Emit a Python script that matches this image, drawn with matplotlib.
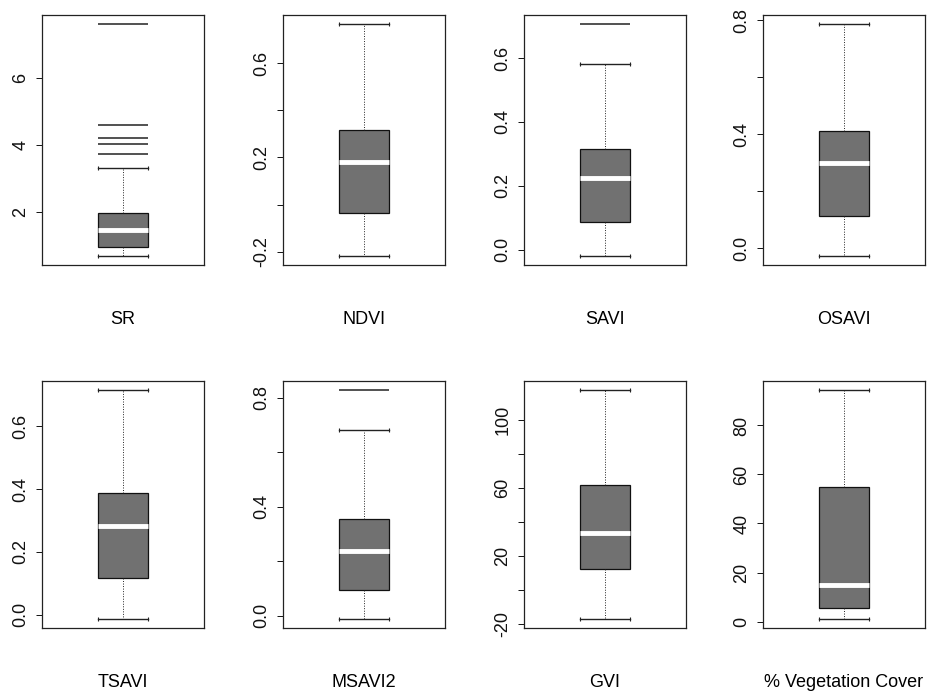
import matplotlib
matplotlib.use('Agg')
import matplotlib.pyplot as plt

# box statistics
names = ['SR', 'NDVI', 'SAVI', 'OSAVI', 'TSAVI', 'MSAVI2', 'GVI', '% Vegetation Cover']
whislo = [0.68, -0.217, -0.019, -0.026, -0.013, -0.012, -17.0, 1.1]
q1 = [0.93, -0.036, 0.087, 0.115, 0.118, 0.095, 12.2, 5.5]
med = [1.46, 0.18, 0.223, 0.30, 0.284, 0.239, 33.7, 15.0]
q3 = [1.96, 0.317, 0.316, 0.41, 0.387, 0.356, 62.0, 54.9]
whishi = [3.31, 0.764, 0.58, 0.786, 0.715, 0.682, 117.6, 94.4]
outliers = [[3.74, 4.04, 4.19, 4.58, 7.61], [], [0.706], [], [], [0.828], [], []]

yticks = [[2, 4, 6],
          [-0.2, 0.0, 0.2, 0.4, 0.6],
          [0.0, 0.2, 0.4, 0.6],
          [0.0, 0.2, 0.4, 0.6, 0.8],
          [0.0, 0.2, 0.4, 0.6],
          [0.0, 0.2, 0.4, 0.6, 0.8],
          [-20, 0, 20, 40, 60, 80, 100],
          [0, 20, 40, 60, 80]]
ytick_labels = [['2', '4', '6'],
                ['-0.2', '', '0.2', '', '0.6'],
                ['0.0', '0.2', '0.4', '0.6'],
                ['0.0', '', '0.4', '', '0.8'],
                ['0.0', '0.2', '0.4', '0.6'],
                ['0.0', '', '0.4', '', '0.8'],
                ['-20', '', '20', '', '60', '', '100'],
                ['0', '20', '40', '60', '80']]

plt.rcParams['font.family'] = ['Liberation Sans', 'DejaVu Sans']

W, H = 944, 692
fig = plt.figure(figsize=(W / 100, H / 100), dpi=100)

col_left = [42, 283, 524, 763]
row_top = [15, 381]
row_bot = [265, 628]
ax_w = 162
box_w = 0.31

for i, name in enumerate(names):
    r, c = divmod(i, 4)
    ax = fig.add_axes([col_left[c] / W, 1 - row_bot[r] / H,
                       ax_w / W, (row_bot[r] - row_top[r]) / H])
    stats = [dict(med=med[i], q1=q1[i], q3=q3[i], whislo=whislo[i],
                  whishi=whishi[i], fliers=outliers[i])]
    ax.bxp(stats, positions=[1], widths=box_w, capwidths=box_w,
           patch_artist=True,
           boxprops=dict(facecolor='#717171', edgecolor='#111111', linewidth=0.9),
           medianprops=dict(color='white', linewidth=3.5, solid_capstyle='butt'),
           whiskerprops=dict(color='#222222', linestyle=(0, (1, 1.6)), linewidth=0.7),
           capprops=dict(color='#222222', linewidth=1.0),
           flierprops=dict(marker='_', markersize=36, markeredgewidth=1.1,
                           markeredgecolor='#222222'))
    # small end ticks on the caps
    for y, d in ((whislo[i], 1), (whishi[i], -1)):
        ax.plot([1 - box_w / 2, 1 + box_w / 2], [y, y], ls='none', marker='|',
                ms=3, mew=0.8, color='#222222')

    vals = [whislo[i], whishi[i]] + outliers[i]
    lo, hi = min(vals), max(vals)
    pad = 0.04 * (hi - lo)
    ax.set_ylim(lo - pad, hi + pad)
    ax.set_xlim(0.5, 1.5)

    ax.set_yticks(yticks[i])
    ax.set_yticklabels(ytick_labels[i], rotation=90, va='center', fontsize=13)
    ax.tick_params(axis='y', direction='out', length=4, width=0.7, pad=5, colors='#111111')
    ax.set_xticks([])
    ax.set_xlabel(name, fontsize=13, labelpad=33)
    for s in ax.spines.values():
        s.set_linewidth(0.9)
        s.set_color('#222222')

fig.savefig('out.png', dpi=100)
